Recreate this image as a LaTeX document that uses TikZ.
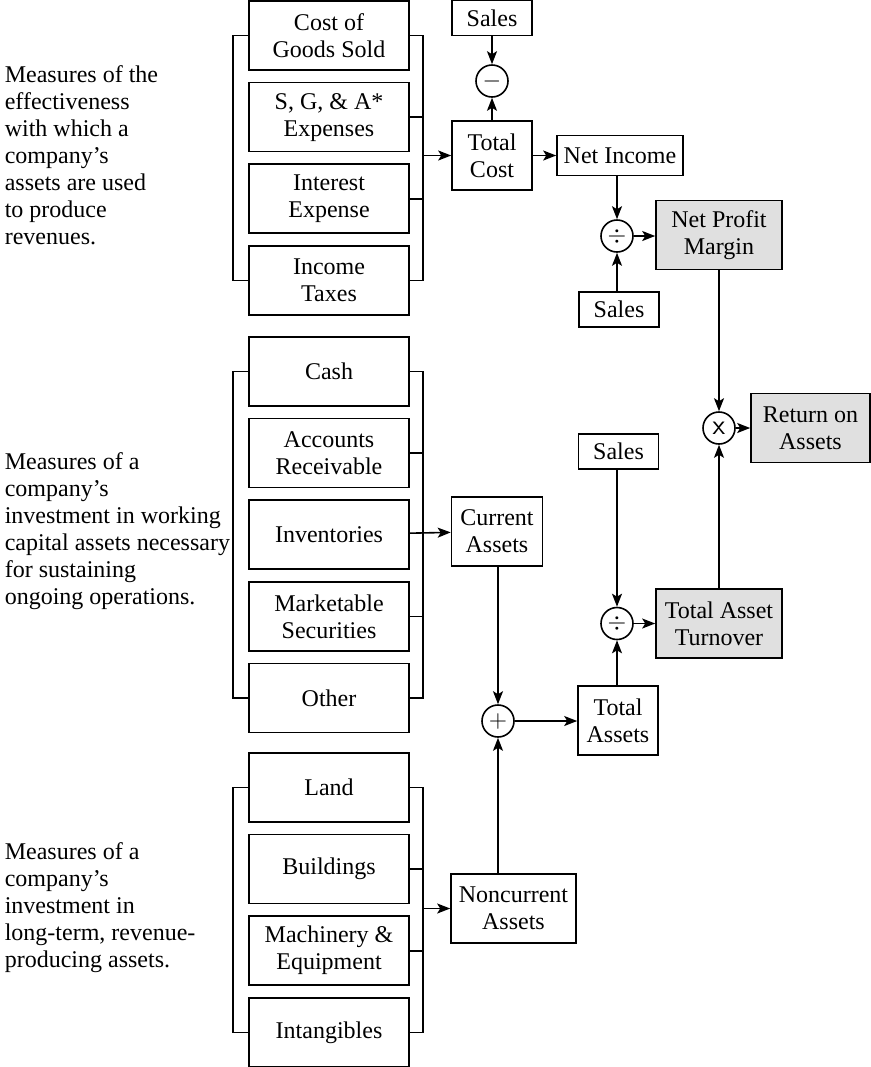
\documentclass[tikz,border=0pt]{standalone}
\usepackage{fontspec}
\setmainfont{Liberation Serif}
\usetikzlibrary{arrows.meta, positioning}
\tikzset{
->, % every connector is directed
>={Stealth[length=6.5pt,width=5pt,inset=1.5pt]}, % filled arrow heads
x=0.5pt, y=-0.5pt, % one unit is one pixel of the reference
every node/.style={font=\fontsize{12}{13.5}\selectfont},
item/.style={draw, thick, minimum width=80pt, minimum height=34.5pt, align=center, inner sep=1pt}, % the boxes on the left
box/.style={draw, thick, align=center, inner sep=1pt, minimum height=34.5pt},
keybox/.style={box, fill=black!12}, % the ratios
small/.style={draw, thick, minimum width=40pt, minimum height=17.5pt, inner sep=1pt},
op/.style={draw, thick, circle, minimum size=16pt, inner sep=0pt},
note/.style={anchor=west, align=left, inner sep=0pt},
}
\begin{document}
\begin{tikzpicture}[thick]
    \useasboundingbox (0,0) rectangle (871,1067);
    % notes
    \node[note] (m1) at (4,155.5) {Measures of the\\effectiveness\\with which a\\company’s\\assets are used\\to produce\\revenues.};
    \node[note] (m2) at (4,531.5) {Measures of a\\company’s\\investment in working\\capital assets necessary\\for sustaining\\ongoing operations.};
    \node[note] (m3) at (4,907.5) {Measures of a\\company’s\\investment in\\long-term, revenue-\\producing assets.};
    % costs
    \node[item] (cogs) at (329,35.5) {Cost of\\Goods Sold};
    \node[item, below=5.5pt of cogs] (sga) {S, G, \& A*\\Expenses};
    \node[item, below=5.5pt of sga] (intexp) {Interest\\Expense};
    \node[item, below=5.5pt of intexp] (taxes) {Income\\Taxes};
    % current assets
    \node[item] (cash) at (329,371.5) {Cash};
    \node[item, below=5.5pt of cash] (recv) {Accounts\\Receivable};
    \node[item, below=5.5pt of recv] (inv) {Inventories};
    \node[item, below=5.5pt of inv] (mktsec) {Marketable\\Securities};
    \node[item, below=5.5pt of mktsec] (other) {Other};
    % noncurrent assets
    \node[item] (land) at (329,787.5) {Land};
    \node[item, below=5.5pt of land] (bldg) {Buildings};
    \node[item, below=5.5pt of bldg] (mach) {Machinery \&\\Equipment};
    \node[item, below=5.5pt of mach] (intang) {Intangibles};
    % right side
    \node[small] (sales1) at (492,18) {Sales};
    \node[op] (minus) at (492,81) {$-$};
    \node[box, minimum width=40pt] (tcost) at (492,155.5) {Total\\Cost};
    \node[small, minimum width=63pt, minimum height=20pt] (netinc) at (620,155.5) {Net Income};
    \node[op] (div1) at (617,236) {$\div$};
    \node[keybox, minimum width=63pt] (npm) at (719,235) {Net Profit\\Margin};
    \node[small] (sales2) at (619,309.5) {Sales};
    \node[op] (times) at (719,428) {\fontsize{14}{14}\sffamily x};
    \node[keybox, minimum width=59.5pt] (roa) at (810.5,428) {Return on\\Assets};
    \node[small] (sales3) at (618.5,451.5) {Sales};
    \node[op] (div2) at (617,623.5) {$\div$};
    \node[keybox, minimum width=63pt] (tat) at (719,623.5) {Total Asset\\Turnover};
    \node[box, minimum width=40pt] (tassets) at (618,720.5) {Total\\Assets};
    \node[op] (plus) at (498,721) {$+$};
    \node[box, minimum width=45.5pt] (cassets) at (497,531.5) {Current\\Assets};
    \node[box, minimum width=62.5pt] (noncur) at (513.5,908.5) {Noncurrent\\Assets};
    % brackets
    \draw[-] (cogs.west) -- ++(-15,0) |- (taxes.west);
    \draw[-] (cogs.east) -- ++(13,0) |- (taxes.east);
    \draw[-] (sga.east) -- ++(13,0) (intexp.east) -- ++(13,0);
    \draw[-] (cash.west) -- ++(-15,0) |- (other.west);
    \draw[-] (cash.east) -- ++(13,0) |- (other.east);
    \draw[-] (recv.east) -- ++(13,0) (mktsec.east) -- ++(13,0);
    \draw[-] (land.west) -- ++(-15,0) |- (intang.west);
    \draw[-] (land.east) -- ++(13,0) |- (intang.east);
    \draw[-] (bldg.east) -- ++(13,0) (mach.east) -- ++(13,0);
    \coordinate (b1) at (422,155.5);
    \coordinate (b3) at (422,908.5);
    % connectors
    \draw (b1) -- (tcost);
    \draw (inv) -- (cassets);
    \draw (b3) -- (noncur);
    \draw (sales1) -- (minus);
    \draw (tcost) -- (minus);
    \draw (tcost) -- (netinc);
    \draw (netinc.south -| div1) -- (div1);
    \draw (sales2.north -| div1) -- (div1);
    \draw (div1) -- (div1 -| npm.west);
    \draw (npm) -- (times);
    \draw (times) -- (roa);
    \draw (sales3.south -| div2) -- (div2);
    \draw (tassets.north -| div2) -- (div2);
    \draw (div2) -- (tat);
    \draw (tat) -- (times);
    \draw (cassets.south -| plus) -- (plus);
    \draw (noncur.north -| plus) -- (plus);
    \draw (plus) -- (plus -| tassets.west);
\end{tikzpicture}
\end{document}
